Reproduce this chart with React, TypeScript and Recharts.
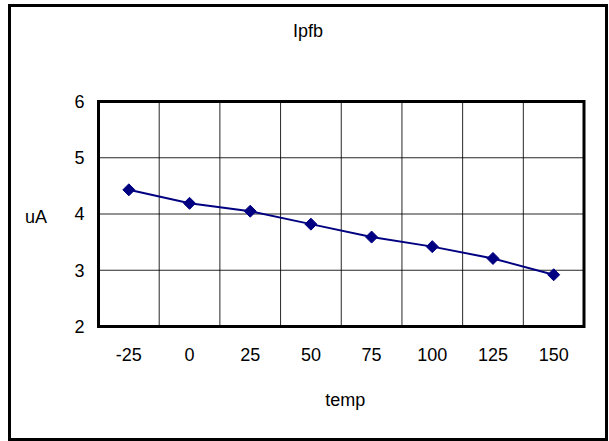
import { LineChart, Line, XAxis, YAxis, CartesianGrid, ReferenceArea } from "recharts"

const temps = [-25, 0, 25, 50, 75, 100, 125, 150]
const ipfb = [4.43, 4.19, 4.05, 3.82, 3.59, 3.42, 3.21, 2.92]
const yTicks = [2, 3, 4, 5, 6]
// band edges between the temperature steps, used for the vertical grid
const bandEdges = [-12.5, 12.5, 37.5, 62.5, 87.5, 112.5, 137.5]
const xDomain = [-37.5, 162.5]

const data = temps.map((t, i) => ({ temp: t, value: ipfb[i] }))

const font = "'Liberation Sans', Arial, sans-serif"
const fs = 18

function Diamond(props: any) {
  const { cx, cy } = props
  if (cx == null || cy == null) return null
  const r = 6
  return (
    <polygon
      points={`${cx},${cy - r} ${cx + r},${cy} ${cx},${cy + r} ${cx - r},${cy}`}
      fill="#000080"
      stroke="#000080"
    />
  )
}

export default function App() {
  return (
    <div style={{ position: "absolute", left: 0, top: 0, width: 609, height: 441, background: "#fff", fontFamily: font }}>
      <div
        style={{
          position: "absolute",
          left: 8,
          top: 4,
          width: 600,
          height: 437,
          border: "3px solid #000",
          boxSizing: "border-box",
        }}
      />
      <div
        style={{
          position: "absolute",
          left: 8,
          width: 600,
          top: 22,
          textAlign: "center",
          fontSize: fs,
          lineHeight: "18px",
          color: "#000",
        }}
      >
        Ipfb
      </div>
      <div style={{ position: "absolute", left: 0, top: 0 }}>
        <LineChart width={609} height={441} data={data} margin={{ top: 101.5, right: 25, bottom: 0, left: 0 }}>
          <XAxis
            xAxisId="main"
            type="number"
            dataKey="temp"
            domain={xDomain}
            ticks={temps}
            height={114.5}
            axisLine={false}
            tickLine={false}
            tickSize={6}
            tickMargin={16}
            interval={0}
            tick={{ fill: "#000", fontSize: fs, fontFamily: font }}
            label={{ value: "temp", position: "insideBottom", offset: 35, dx: 4, fill: "#000", fontSize: fs, fontFamily: font }}
          />
          <XAxis xAxisId="grid" type="number" dataKey="temp" domain={xDomain} ticks={bandEdges} height={0} hide />
          <YAxis
            type="number"
            domain={[2, 6]}
            ticks={yTicks}
            width={98.5}
            axisLine={false}
            tickLine={false}
            tickSize={8}
            tickMargin={6}
            tick={{ fill: "#000", fontSize: fs, fontFamily: font }}
            label={{ value: "uA", position: "insideLeft", offset: 25, dy: 3, fill: "#000", fontSize: fs, fontFamily: font }}
          />
          <CartesianGrid xAxisId="grid" stroke="#000" strokeWidth={1} strokeOpacity={0.85} />
          <ReferenceArea
            xAxisId="main"
            x1={xDomain[0]}
            x2={xDomain[1]}
            y1={2}
            y2={6}
            fill="none"
            fillOpacity={0}
            stroke="#000"
            strokeWidth={3}
            strokeOpacity={1}
            ifOverflow="visible"
          />
          <Line
            xAxisId="main"
            type="linear"
            dataKey="value"
            stroke="#000080"
            strokeWidth={2}
            dot={<Diamond />}
            activeDot={false}
            isAnimationActive={false}
          />
        </LineChart>
      </div>
    </div>
  )
}
